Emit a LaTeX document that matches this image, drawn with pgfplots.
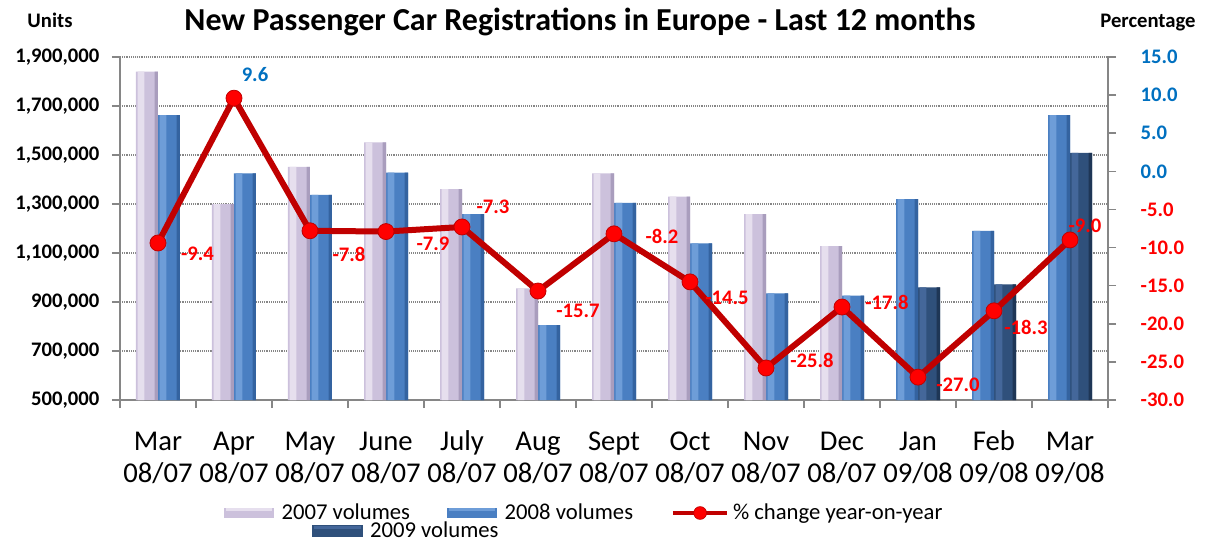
\documentclass[border=0pt]{standalone}
\usepackage{pgfplots}
\pgfplotsset{compat=1.18}
\usepackage{pgfplotstable}
\usepackage{fontspec}
\setmainfont{Carlito}
\definecolor{cred}{HTML}{FF0000}
\definecolor{cblue}{HTML}{0070C0}
\definecolor{cline}{HTML}{C00000}
\definecolor{caxis}{HTML}{868686}
\definecolor{aL}{HTML}{E6DFEE}\definecolor{aM}{HTML}{CCC1DC}\definecolor{aR}{HTML}{A99DBD}
\definecolor{bL}{HTML}{6E9DD8}\definecolor{bM}{HTML}{4A7FC2}\definecolor{bR}{HTML}{3463A0}
\definecolor{cL}{HTML}{44679A}\definecolor{cM}{HTML}{2F507B}\definecolor{cR}{HTML}{1E3656}

\pgfplotstableread{
x v2007 v2008
0 1840000 1663000
1 1300000 1425000
2 1452000 1337000
3 1552000 1428000
4 1361000 1259000
5 956000 806000
6 1425000 1305000
7 1330000 1139000
8 1259000 935000
9 1128000 926000
}\dataA
\pgfplotstableread{
x v2008 v2009
10 1320000 960000
11 1190000 972000
12 1663000 1509000
}\dataB
\pgfplotstableread{
x y lab dx dy
0 -9.4 -9.4 29.6 -8.25
1 9.6 {\color{cblue}9.6} 15.75 18
2 -7.8 -7.8 29.25 -18
3 -7.9 -7.9 35.25 -9
4 -7.3 -7.3 23.25 15
5 -15.7 -15.7 30 -15
6 -8.2 -8.2 36 -2.25
7 -14.5 -14.5 27.75 -12
8 -25.8 -25.8 34.5 6
9 -17.8 -17.8 33.75 3.75
10 -27.0 -27.0 30 -6
11 -18.3 -18.3 24 -12.75
12 -9.0 -9.0 11.25 10.5
}\dataL

\pgfplotsset{
  mainbar/.style 2 args={ybar, bar width=16.5pt, bar shift=#1, draw=none, fill=#2},
  strip/.style 2 args={ybar, bar width=#2, bar shift=#1, draw=none, forget plot},
  legrect/.style 2 args={legend image code/.code={\fill[#1] (0pt,-4pt) rectangle (37pt,4pt); \fill[#2] (1pt,1.5pt) rectangle (36pt,3.5pt); \path (41pt,0pt);}},
}

\begin{document}
\begin{tikzpicture}[x=1pt,y=1pt]
\useasboundingbox (-90,-108) rectangle (816,300);
\begin{axis}[
  scale only axis, width=741pt, height=257.25pt,
  xmin=-0.5, xmax=12.5,
  ymin=500000, ymax=1900000,
  ytick={500000,700000,900000,1100000,1300000,1500000,1700000,1900000},
  scaled y ticks=false,
  yticklabel style={font=\bfseries\fontsize{15.5}{18}\selectfont, xshift=-6pt,
    /pgf/number format/fixed, /pgf/number format/1000 sep={,},
    /pgf/number format/assume math mode=true},
  axis x line*=bottom, axis y line*=left,
  axis line style={caxis, line width=1.4pt},
  ymajorgrids, grid style={densely dotted, caxis, line width=1pt},
  tick align=outside, major tick length=6pt, minor tick length=6pt,
  every tick/.style={caxis, line width=1.2pt},
  xtick={0,...,12},
  major x tick style={draw=none},
  minor xtick={-0.5,0.5,...,12.5},
  xticklabels={{\strut Mar\\08/07},{\strut Apr\\08/07},{\strut May\\08/07},{\strut June\\08/07},{\strut July\\08/07},{\strut Aug\\08/07},{\strut Sept\\08/07},{\strut Oct\\08/07},{\strut Nov\\08/07},{\strut Dec\\08/07},{\strut Jan\\09/08},{\strut Feb\\09/08},{\strut Mar\\09/08}},
  xticklabel style={align=center, font=\fontsize{21.5}{24.5}\selectfont, yshift=-11pt},
  legend style={at={(0.1053,-0.3294)}, anchor=west, draw=none, fill=none, inner sep=0pt,
    font=\fontsize{17}{18}\selectfont, legend columns=3,
    /tikz/every even column/.append style={column sep=26pt}},
  legend cell align=left,
]
% 2007 (left), 2008 (right) for Mar-Dec 08/07
\addplot[mainbar={-8.25pt}{aM}, legrect={aM}{aL}] table[x=x, y=v2007]{\dataA};
\addlegendentry{2007 volumes}
\addplot[mainbar={8.25pt}{bM}, legrect={bM}{bL}] table[x=x, y=v2008]{\dataA};
\addlegendentry{2008 volumes}
\addlegendimage{legend image code/.code={\draw[cline, line width=3.5pt] (0pt,0pt) -- (41pt,0pt); \fill[cred, draw=cline, line width=0.5pt] (20.5pt,0pt) circle (4.8pt); \path (43pt,0pt);}}
\addlegendentry{\% change year-on-year}
\addplot[strip={-12.75pt}{5pt}, fill=aL] table[x=x, y=v2007]{\dataA};
\addplot[strip={-1.25pt}{2.5pt}, fill=aR] table[x=x, y=v2007]{\dataA};
\addplot[strip={3.75pt}{5pt}, fill=bL] table[x=x, y=v2008]{\dataA};
\addplot[strip={15.25pt}{2.5pt}, fill=bR] table[x=x, y=v2008]{\dataA};
% 2008 (left), 2009 (right) for Jan-Mar 09/08
\addplot[mainbar={-8.25pt}{bM}, forget plot] table[x=x, y=v2008]{\dataB};
\addplot[mainbar={8.25pt}{cM}, forget plot] table[x=x, y=v2009]{\dataB};
\addplot[strip={-12.75pt}{5pt}, fill=bL] table[x=x, y=v2008]{\dataB};
\addplot[strip={-1.25pt}{2.5pt}, fill=bR] table[x=x, y=v2008]{\dataB};
\addplot[strip={3.75pt}{5pt}, fill=cL] table[x=x, y=v2009]{\dataB};
\addplot[strip={15.25pt}{2.5pt}, fill=cR] table[x=x, y=v2009]{\dataB};
\end{axis}
\begin{axis}[
  scale only axis, width=741pt, height=257.25pt,
  xmin=-0.5, xmax=12.5,
  ymin=-30, ymax=15,
  axis x line=none, axis y line*=right,
  axis line style={caxis, line width=1.4pt},
  tick align=outside, major tick length=6pt,
  every tick/.style={caxis, line width=1.2pt},
  ytick={-30,-25,-20,-15,-10,-5,0,5,10,15},
  yticklabels={\textcolor{cred}{-30.0},\textcolor{cred}{-25.0},\textcolor{cred}{-20.0},\textcolor{cred}{-15.0},\textcolor{cred}{-10.0},\textcolor{cred}{-5.0},\textcolor{cblue}{0.0},\textcolor{cblue}{5.0},\textcolor{cblue}{10.0},\textcolor{cblue}{15.0}},
  yticklabel style={font=\bfseries\fontsize{15.5}{18}\selectfont, anchor=west, xshift=15pt},
  legend style={at={(0.1943,-0.381)}, anchor=west, draw=none, fill=none, inner sep=0pt,
    font=\fontsize{17}{18}\selectfont},
  legend cell align=left,
]
\addlegendimage{legrect={cM}{cL}}
\addlegendentry{2009 volumes}
\addplot[cline, line width=4.5pt, mark=*, mark size=6pt, forget plot,
  mark options={fill=cred, draw=cline, line width=0.6pt},
  point meta=explicit symbolic,
  visualization depends on={\thisrow{dx} \as \mydx},
  visualization depends on={\thisrow{dy} \as \mydy},
  nodes near coords,
  every node near coord/.append style={anchor=center, xshift=\mydx pt, yshift=\mydy pt, text=cred, font=\bfseries\fontsize{15.5}{18}\selectfont}]
  table[x=x, y=y, meta=lab]{\dataL};
\end{axis}
\node[anchor=base, font=\bfseries\fontsize{24}{28}\selectfont] at (345,276.75) {New Passenger Car Registrations in Europe - Last 12 months};
\node[anchor=base, font=\bfseries\fontsize{15.5}{18}\selectfont] at (-52.5,279.75) {Units};
\node[anchor=base, font=\bfseries\fontsize{15.5}{18}\selectfont] at (771,279.75) {Percentage};
\end{tikzpicture}
\end{document}
